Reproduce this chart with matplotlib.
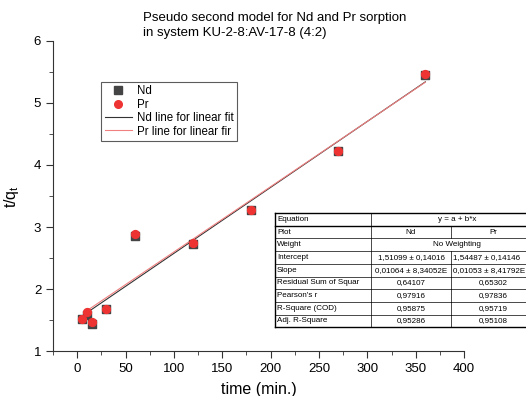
import numpy as np
import matplotlib.pyplot as plt
from matplotlib.ticker import MultipleLocator
from matplotlib.lines import Line2D

plt.rcParams['font.family'] = ['Liberation Sans', 'DejaVu Sans']

# data
time = [5, 10, 15, 30, 60, 120, 180, 270, 360]
nd = [1.52, 1.58, 1.43, 1.67, 2.86, 2.73, 3.28, 4.22, 5.45]
pr = [1.52, 1.63, 1.47, 1.68, 2.88, 2.74, 3.27, 4.23, 5.46]

# linear fit results (from the table)
nd_fit = (1.51099, 0.01064)
pr_fit = (1.54487, 0.01053)
fit_range = [10, 360]

table_rows = [
    ["Equation", "y = a + b*x", ""],
    ["Plot", "Nd", "Pr"],
    ["Weight", "No Weighting", ""],
    ["Intercept", "1,51099 \u00b1 0,14016", "1,54487 \u00b1 0,14146"],
    ["Slope", "0,01064 \u00b1 8,34052E", "0,01053 \u00b1 8,41792E"],
    ["Residual Sum of Squar", "0,64107", "0,65302"],
    ["Pearson's r", "0,97916", "0,97836"],
    ["R-Square (COD)", "0,95875", "0,95719"],
    ["Adj. R-Square", "0,95286", "0,95108"],
]

fig = plt.figure(figsize=(5.26, 3.96), dpi=100)
ax = fig.add_axes([0.1008, 0.1136, 0.7814, 0.7829])

nd_col = '#444444'
pr_col = '#ee3333'

xf = np.array(fit_range)
ax.plot(xf, nd_fit[0] + nd_fit[1] * xf, color='#333333', lw=0.8)
ax.plot(xf, pr_fit[0] + pr_fit[1] * xf, color='#f08080', lw=0.8)
ax.scatter(time, nd, marker='s', s=30, color=nd_col, zorder=3)
ax.scatter(time, pr, marker='o', s=32, color=pr_col, zorder=4)

ax.set_xlim(-25, 400)
ax.set_ylim(1, 6)
ax.xaxis.set_major_locator(MultipleLocator(50))
ax.xaxis.set_minor_locator(MultipleLocator(25))
ax.yaxis.set_major_locator(MultipleLocator(1))
ax.yaxis.set_minor_locator(MultipleLocator(0.5))
ax.spines['top'].set_visible(False)
ax.spines['right'].set_visible(False)
ax.tick_params(which='major', length=5, labelsize=9.5, direction='out', color='#333333')
ax.tick_params(which='minor', length=3, direction='out', color='#333333')
for s in ['left', 'bottom']:
    ax.spines[s].set_color('#333333')

ax.set_xlabel('time (min.)', fontsize=11.5, labelpad=5)
ax.set_ylabel('t/q$_\\mathregular{t}$', fontsize=11.5, labelpad=9)

fig.text(0.272, 0.955, 'Pseudo second model for Nd and Pr sorption', fontsize=9.5, va='center')
fig.text(0.272, 0.917, 'in system KU-2-8:AV-17-8 (4:2)', fontsize=9.5, va='center')

handles = [
    Line2D([], [], marker='s', color=nd_col, ls='none', ms=5.5),
    Line2D([], [], marker='o', color=pr_col, ls='none', ms=5.5),
    Line2D([], [], color='#333333', lw=0.8),
    Line2D([], [], color='#f08080', lw=0.8),
]
labels = ['Nd', 'Pr', 'Nd line for linear fit', 'Pr line for linear fir']
leg = ax.legend(handles, labels, loc='upper left', bbox_to_anchor=(0.117, 0.868),
                fontsize=8.3, frameon=True, fancybox=False, edgecolor='#333333',
                handlelength=2.4, handletextpad=0.4, labelspacing=0.12,
                borderpad=0.3, borderaxespad=0)
leg.get_frame().set_linewidth(0.8)

# fit results table, drawn in figure pixels
W, H = 526.0, 396.0
cols = [275, 371, 451, 535]
top = 213
rh = 12.7
fs = 5.8

def fx(p):
    return p / W

def fy(p):
    return 1 - p / H

n = len(table_rows)
bottom = top + n * rh
for i in range(n + 1):
    y = top + i * rh
    lw = 1.0 if i in (0, 1, n) else 0.5
    fig.add_artist(Line2D([fx(cols[0]), fx(cols[3])], [fy(y), fy(y)], color='k', lw=lw))
fig.add_artist(Line2D([fx(cols[0])] * 2, [fy(top), fy(bottom)], color='k', lw=1.0))
fig.add_artist(Line2D([fx(cols[1])] * 2, [fy(top), fy(bottom)], color='k', lw=0.5))

for i, row in enumerate(table_rows):
    y0 = top + i * rh
    yc = fy(y0 + rh / 2)
    fig.text(fx(cols[0] + 2), yc, row[0], fontsize=fs, va='center', ha='left')
    if row[2] == "":
        # merged cell across both columns
        fig.text(fx((cols[1] + cols[3]) / 2 + 4), yc, row[1], fontsize=fs, va='center', ha='center')
        continue
    fig.add_artist(Line2D([fx(cols[2])] * 2, [fy(y0), fy(y0 + rh)], color='k', lw=0.5))
    fig.text(fx((cols[1] + cols[2]) / 2), yc, row[1], fontsize=fs, va='center', ha='center')
    # last column runs off the picture edge, keep its long texts left aligned
    if len(row[2]) > 10:
        fig.text(fx(cols[2] + 2), yc, row[2], fontsize=fs, va='center', ha='left')
    else:
        fig.text(fx((cols[2] + cols[3]) / 2), yc, row[2], fontsize=fs, va='center', ha='center')

fig.savefig('out.png', dpi=100)
